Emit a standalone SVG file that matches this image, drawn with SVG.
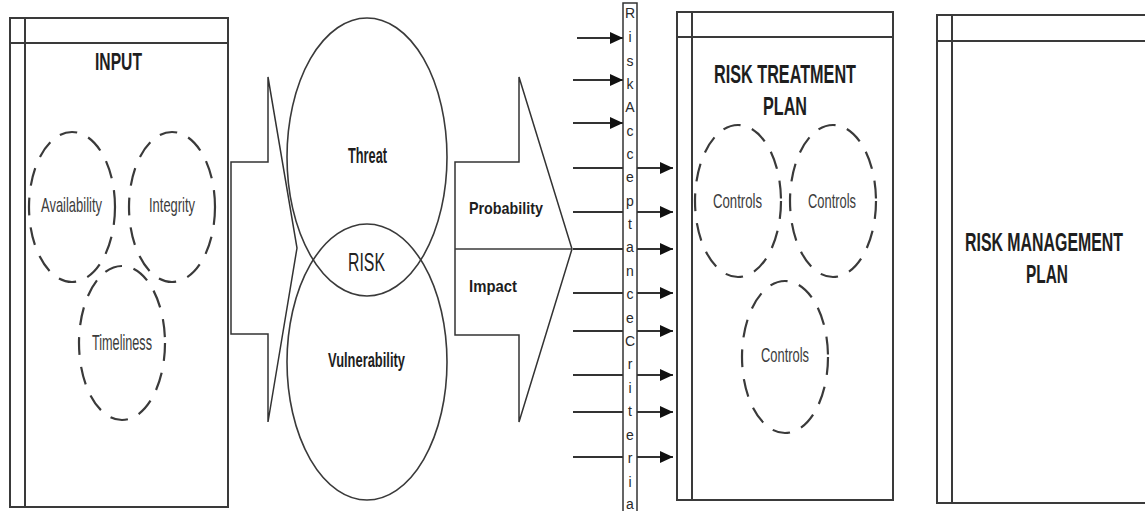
<svg xmlns="http://www.w3.org/2000/svg" width="1145" height="511" viewBox="0 0 1145 511">
<defs>
<style>
.box{fill:#fff;stroke:#3a3a3a;stroke-width:2}
.ln{fill:none;stroke:#3a3a3a;stroke-width:2}
.dash{fill:none;stroke:#3a3a3a;stroke-width:2.2;stroke-dasharray:18 12}
.ell{fill:none;stroke:#3a3a3a;stroke-width:1.6}
.fat{fill:#fff;stroke:#333;stroke-width:1.5}
.conn{fill:none;stroke:#333;stroke-width:2.2}
.b{font-family:"Liberation Sans",Arial,sans-serif;font-weight:bold;fill:#1e1e1e}
.r{font-family:"Liberation Sans",Arial,sans-serif;fill:#3c3c3c}
.let{font-family:"Liberation Sans",Arial,sans-serif;font-size:14px;fill:#2a2a2a;text-anchor:middle}
</style>
<marker id="ah" markerUnits="userSpaceOnUse" markerWidth="14" markerHeight="12" refX="13" refY="6" orient="auto">
<path d="M0,0 L13,6 L0,12 z" fill="#111"/>
</marker>
</defs>
<rect width="1145" height="511" fill="#fff"/>

<g id="input">
<rect class="box" x="10" y="18" width="218" height="489"/>
<line class="ln" x1="25" y1="18" x2="25" y2="507"/>
<line class="ln" x1="10" y1="43" x2="228" y2="43"/>
<text class="b" x="95" y="70" font-size="24" textLength="47" lengthAdjust="spacingAndGlyphs">INPUT</text>
</g>
<g id="availability">
<ellipse class="dash" cx="72" cy="207" rx="43" ry="75"/>
<text class="r" x="41" y="212" font-size="21" textLength="61" lengthAdjust="spacingAndGlyphs">Availability</text>
</g>
<g id="integrity">
<ellipse class="dash" cx="172" cy="207" rx="43" ry="75"/>
<text class="r" x="149" y="212" font-size="21" textLength="46" lengthAdjust="spacingAndGlyphs">Integrity</text>
</g>
<g id="timeliness">
<ellipse class="dash" cx="122" cy="343" rx="43" ry="77"/>
<text class="r" x="92" y="350" font-size="22" textLength="60" lengthAdjust="spacingAndGlyphs">Timeliness</text>
</g>

<g id="arrow-input">
<polygon class="fat" points="231,162 268,162 268,77 297,248 268,422 268,334 231,334"/>
</g>

<g id="threat">
<ellipse class="ell" cx="367" cy="157" rx="80" ry="139"/>
<text class="b" x="348" y="163" font-size="22" textLength="39" lengthAdjust="spacingAndGlyphs">Threat</text>
</g>
<g id="vulnerability">
<ellipse class="ell" cx="367" cy="362" rx="80" ry="138"/>
<text class="b" x="328" y="367" font-size="21" textLength="77" lengthAdjust="spacingAndGlyphs">Vulnerability</text>
</g>
<g id="risk">
<text class="r" x="348" y="271" font-size="25" textLength="37" lengthAdjust="spacingAndGlyphs" style="fill:#222">RISK</text>
</g>

<g id="arrow-risk">
<polygon class="fat" points="455,162 519,162 519,77 572,249 519,422 519,335 455,335"/>
<line class="ln" x1="455" y1="249" x2="572" y2="249" style="stroke-width:1.5"/>
<text class="b" x="469" y="214" font-size="17" textLength="74" lengthAdjust="spacingAndGlyphs">Probability</text>
<text class="b" x="469" y="292" font-size="17" textLength="48" lengthAdjust="spacingAndGlyphs">Impact</text>
</g>

<g id="connectors">
<line class="conn" x1="577" y1="38" x2="623" y2="38" marker-end="url(#ah)"/>
<line class="conn" x1="573" y1="80" x2="623" y2="80" marker-end="url(#ah)"/>
<line class="conn" x1="573" y1="123" x2="623" y2="123" marker-end="url(#ah)"/>
<line class="conn" x1="573" y1="168" x2="673" y2="168" marker-end="url(#ah)"/>
<line class="conn" x1="573" y1="212" x2="673" y2="212" marker-end="url(#ah)"/>
<line class="conn" x1="573" y1="249" x2="673" y2="249" marker-end="url(#ah)"/>
<line class="conn" x1="573" y1="293" x2="673" y2="293" marker-end="url(#ah)"/>
<line class="conn" x1="573" y1="331" x2="673" y2="331" marker-end="url(#ah)"/>
<line class="conn" x1="573" y1="375" x2="673" y2="375" marker-end="url(#ah)"/>
<line class="conn" x1="573" y1="412" x2="673" y2="412" marker-end="url(#ah)"/>
<line class="conn" x1="573" y1="457" x2="673" y2="457" marker-end="url(#ah)"/>
</g>

<g id="acceptance-criteria">
<rect x="623" y="3" width="14" height="512" fill="#fff" stroke="#333" stroke-width="1.5"/>
<text class="let" x="630" y="18">R</text>
<text class="let" x="630" y="42">i</text>
<text class="let" x="630" y="66">s</text>
<text class="let" x="630" y="89">k</text>
<text class="let" x="630" y="112">A</text>
<text class="let" x="630" y="136">c</text>
<text class="let" x="630" y="159">c</text>
<text class="let" x="630" y="182">e</text>
<text class="let" x="630" y="206">p</text>
<text class="let" x="630" y="229">t</text>
<text class="let" x="630" y="252">a</text>
<text class="let" x="630" y="276">n</text>
<text class="let" x="630" y="299">c</text>
<text class="let" x="630" y="323">e</text>
<text class="let" x="630" y="346">C</text>
<text class="let" x="630" y="369">r</text>
<text class="let" x="630" y="393">i</text>
<text class="let" x="630" y="416">t</text>
<text class="let" x="630" y="440">e</text>
<text class="let" x="630" y="463">r</text>
<text class="let" x="630" y="487">i</text>
<text class="let" x="630" y="509">a</text>
</g>

<g id="risk-treatment-plan">
<rect class="box" x="677" y="12" width="216" height="488"/>
<line class="ln" x1="692" y1="12" x2="692" y2="500"/>
<line class="ln" x1="677" y1="37" x2="893" y2="37"/>
<text class="b" x="714" y="83" font-size="25" textLength="142" lengthAdjust="spacingAndGlyphs">RISK TREATMENT</text>
<text class="b" x="763" y="115" font-size="25" textLength="44" lengthAdjust="spacingAndGlyphs">PLAN</text>
</g>
<g id="controls-1">
<ellipse class="dash" cx="738" cy="201" rx="43" ry="76"/>
<text class="r" x="713" y="208" font-size="21" textLength="49" lengthAdjust="spacingAndGlyphs">Controls</text>
</g>
<g id="controls-2">
<ellipse class="dash" cx="833" cy="201" rx="43" ry="76"/>
<text class="r" x="808" y="208" font-size="21" textLength="48" lengthAdjust="spacingAndGlyphs">Controls</text>
</g>
<g id="controls-3">
<ellipse class="dash" cx="785" cy="357" rx="43" ry="76"/>
<text class="r" x="761" y="362" font-size="21" textLength="48" lengthAdjust="spacingAndGlyphs">Controls</text>
</g>

<g id="risk-management-plan">
<path d="M1145,15 H937 V503 H1145" fill="#fff" stroke="#3a3a3a" stroke-width="2"/>
<line class="ln" x1="952" y1="15" x2="952" y2="503"/>
<line class="ln" x1="937" y1="41" x2="1145" y2="41"/>
<text class="b" transform="translate(965,251) scale(1,1.5625)" x="0" y="0" font-size="16" textLength="158" lengthAdjust="spacingAndGlyphs">RISK MANAGEMENT</text>
<text class="b" transform="translate(1026,283) scale(1,1.5625)" x="0" y="0" font-size="16" textLength="42" lengthAdjust="spacingAndGlyphs">PLAN</text>
</g>
</svg>
